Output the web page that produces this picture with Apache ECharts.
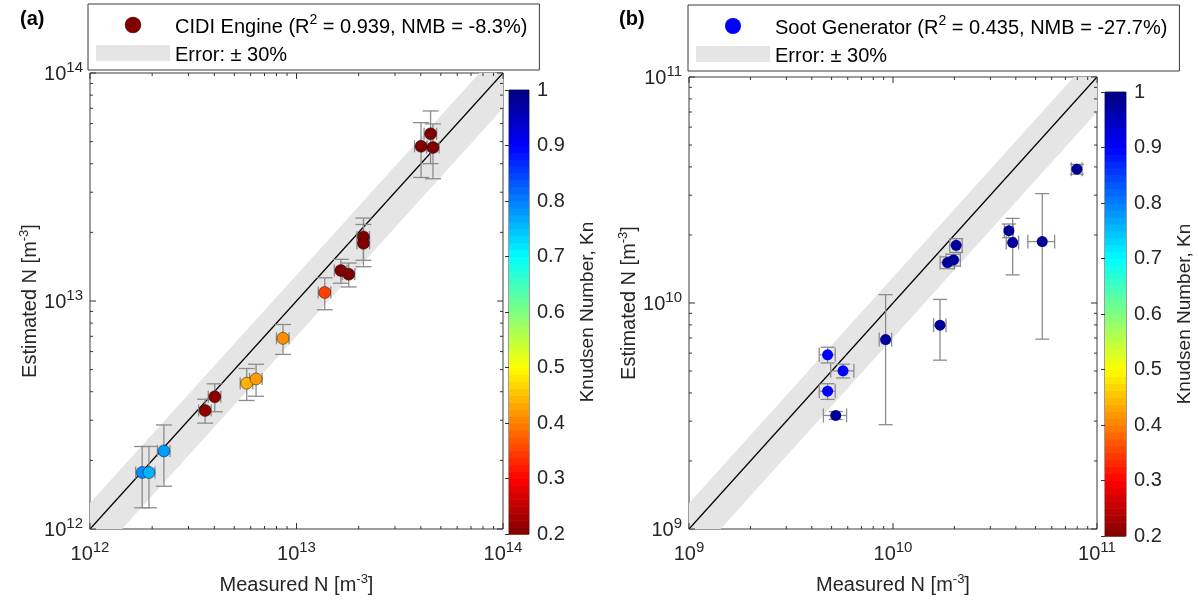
<!DOCTYPE html>
<html><head><meta charset="utf-8">
<script src="https://cdn.jsdelivr.net/npm/echarts@6/dist/echarts.min.js"></script>
<style>html,body{margin:0;padding:0;background:#fff}#c{width:1198px;height:600px}</style>
</head><body><div id="c"></div>
<script>
// ---------- Data: panel (a) CIDI Engine ----------
const aMeasured  = [1.79e12, 1.93e12, 2.28e12, 3.61e12, 4.02e12, 5.74e12, 6.37e12, 8.6e12, 1.37e13, 1.64e13, 1.79e13, 2.11e13, 2.11e13, 4.01e13, 4.46e13, 4.58e13];
const aEstimated = [1.77e12, 1.77e12, 2.20e12, 3.31e12, 3.80e12, 4.36e12, 4.55e12, 6.86e12, 1.09e13, 1.36e13, 1.31e13, 1.91e13, 1.79e13, 4.77e13, 5.41e13, 4.71e13];
const aKn        = [0.79, 0.76, 0.78, 0.21, 0.21, 0.44, 0.42, 0.41, 0.35, 0.2, 0.2, 0.2, 0.2, 0.2, 0.2, 0.2];
const aXErr      = [0.07, 0.07, 0.07, 0.07, 0.07, 0.07, 0.07, 0.07, 0.07, 0.07, 0.07, 0.07, 0.07, 0.07, 0.07, 0.07];
const aYErr      = [0.30, 0.30, 0.30, 0.12, 0.14, 0.16, 0.16, 0.15, 0.16, 0.12, 0.12, 0.21, 0.21, 0.27, 0.26, 0.27];
const aName = 'CIDI Engine (R² = 0.939, NMB = -8.3%)';
const aRange = [1e12, 1e14];

// ---------- Data: panel (b) Soot Generator ----------
const bMeasured  = [4.78e9, 5.69e9, 4.78e9, 5.24e9, 9.2e9, 1.70e10, 1.85e10, 1.98e10, 2.04e10, 3.70e10, 3.86e10, 5.39e10, 7.97e10];
const bEstimated = [5.9e9, 5.01e9, 4.07e9, 3.18e9, 6.89e9, 7.98e9, 1.51e10, 1.55e10, 1.80e10, 2.09e10, 1.85e10, 1.87e10, 3.91e10];
const bKn        = [0.9, 0.9, 0.9, 0.98, 0.98, 0.98, 0.98, 0.98, 0.98, 0.98, 0.98, 0.98, 0.98];
const bXErr      = [0.09, 0.13, 0.09, 0.13, 0.07, 0.07, 0.08, 0.08, 0.07, 0.05, 0.07, 0.15, 0.06];
const bYErr      = [0.08, 0.07, 0.08, 0.04, 0.58, 0.30, 0.06, 0.06, 0.07, 0.07, 0.28, 0.63, 0.05];
const bName = 'Soot Generator (R² = 0.435, NMB = -27.7%)';
const bRange = [1e9, 1e11];

const bandFrac = 0.30;                 // ± 30 % error band
const bandName = 'Error: ± 30%';
const knRange = [0.2, 1.0];
const knTickStep = 0.1;

// ---------- helpers ----------
const FONT = 'Liberation Sans, Arial, sans-serif';
const TXT = '#262626';
const jetStops = [[0,0,0.5],[0,0,1],[0,0.5,1],[0,1,1],[0.5,1,0.5],[1,1,0],[1,0.5,0],[1,0,0],[0.5,0,0]];
function jet(t){ // t: 0 -> dark blue, 1 -> dark red
  t = Math.max(0, Math.min(1, t));
  const p = t * 8, i = Math.min(7, Math.floor(p)), f = p - i;
  const a = jetStops[i], b = jetStops[i+1];
  const c = a.map((v,k)=>Math.round(255*(v + (b[k]-v)*f)));
  return 'rgb(' + c.join(',') + ')';
}
const jetColorsLowToHigh = jetStops.slice().reverse().map(s => 'rgb(' + s.map(v=>Math.round(v*255)).join(',') + ')');

function decadeTicks(range){
  const out = [];
  for (let e = Math.round(Math.log10(range[0])); e < Math.round(Math.log10(range[1])); e++){
    out.push([Math.pow(10,e), 6]);
    for (let m = 2; m <= 9; m++) out.push([m*Math.pow(10,e), 3]);
  }
  out.push([range[1], 6]);
  return out;
}
const colorLevels = [];
for (let i = 0; i < 64; i++){
  const lo = knRange[0] + (knRange[1]-knRange[0]) * i / 64;
  const hi = knRange[0] + (knRange[1]-knRange[0]) * (i+1) / 64;
  colorLevels.push([0, lo, hi, 1 - (i+0.5)/64]);
}

const supRich = (size, supSize, raise) => ({
  b: {fontSize: size, fontFamily: FONT, color: TXT, verticalAlign: 'bottom', lineHeight: size + 3},
  s: {fontSize: supSize, fontFamily: FONT, color: TXT, verticalAlign: 'bottom', lineHeight: size + 3, padding: [0,0,raise,0]}
});
const powLabel = v => '{b|10}{s|' + Math.round(Math.log10(v)) + '}';

function logAxis(gridIndex, range, position, nameStr, nameGap){
  return {
    type: 'log', logBase: 10, gridIndex, position, min: range[0], max: range[1],
    axisLine: {show: false}, axisTick: {show: false}, splitLine: {show: false}, minorTick: {show: false},
    axisLabel: {formatter: powLabel, rich: supRich(20, 15, 9), margin: position === 'bottom' ? 12 : 7},
    name: nameStr, nameLocation: 'middle', nameGap,
    nameTextStyle: {rich: {
      n: {fontSize: 20, fontFamily: FONT, color: TXT, verticalAlign: 'bottom', lineHeight: 23},
      s: {fontSize: 13, fontFamily: FONT, color: TXT, verticalAlign: 'bottom', lineHeight: 23, padding: [0,0,9,0]}
    }}
  };
}
function cbAxisX(gridIndex){ return {type:'value', gridIndex, min:0, max:1, show:false}; }
function cbAxisY(gridIndex){
  return {type:'value', gridIndex, position:'right', min: knRange[0], max: knRange[1], interval: knTickStep,
    axisLine:{show:false}, splitLine:{show:false},
    axisTick:{show:true, inside:true, length:4, lineStyle:{color:'#333'}},
    axisLabel:{fontSize:20, fontFamily:FONT, color:TXT, margin:8, formatter: v => (Math.round(v*10)/10).toString()},
    name:'Knudsen Number, Kn', nameLocation:'middle', nameRotate:90, nameGap:49,
    nameTextStyle:{fontSize:19, fontFamily:FONT, color:TXT}};
}

function toItems(xs, ys, kn){ return xs.map((x,i)=>[x, ys[i], kn[i]]); }
function toErr(xs, ys, ex, ey){ return xs.map((x,i)=>[x, ys[i], x*(1-ex[i]), x*(1+ex[i]), ys[i]*(1-ey[i]), ys[i]*(1+ey[i])]); }

function bandSeries(xi, yi, range){
  return {type:'custom', name: bandName, xAxisIndex:xi, yAxisIndex:yi, clip:true, z:1, silent:true,
    data:[[range[0], range[1], bandFrac]],
    renderItem:(p, api)=>{
      const lo = api.value(0), hi = api.value(1), f = api.value(2);
      const pts = [[lo, lo*(1-f)], [hi, hi*(1-f)], [hi, hi*(1+f)], [lo, lo*(1+f)]].map(q=>api.coord(q));
      return {type:'polygon', shape:{points:pts}, style:{fill:'#e5e5e5'}};
    }};
}
function diagSeries(xi, yi, range){
  return {type:'line', xAxisIndex:xi, yAxisIndex:yi, data:[[range[0],range[0]],[range[1],range[1]]],
    symbol:'none', lineStyle:{color:'#000', width:1.2}, z:3, silent:true};
}
function errSeries(xi, yi, data, capY, capX){
  return {type:'custom', xAxisIndex:xi, yAxisIndex:yi, z:4, silent:true, data,
    renderItem:(p, api)=>{
      const x = api.value(0), y = api.value(1);
      const yl = api.coord([x, api.value(4)]), yh = api.coord([x, api.value(5)]);
      const xl = api.coord([api.value(2), y]), xh = api.coord([api.value(3), y]);
      const st = {stroke:'#8c8c8c', lineWidth:1.3};
      const L = (x1,y1,x2,y2)=>({type:'line', shape:{x1,y1,x2,y2}, style:st});
      return {type:'group', children:[
        L(yl[0], yl[1], yh[0], yh[1]),
        L(yl[0]-capY, yl[1], yl[0]+capY, yl[1]),
        L(yh[0]-capY, yh[1], yh[0]+capY, yh[1]),
        L(xl[0], xl[1], xh[0], xh[1]),
        L(xl[0], xl[1]-capX, xl[0], xl[1]+capX),
        L(xh[0], xh[1]-capX, xh[0], xh[1]+capX)
      ]};
    }};
}
function tickSeries(xi, yi, range){
  return {type:'custom', xAxisIndex:xi, yAxisIndex:yi, z:6, silent:true, clip:false,
    data: decadeTicks(range),
    renderItem:(p, api)=>{
      const v = api.value(0), len = api.value(1);
      const b = api.coord([v, range[0]]), t = api.coord([v, range[1]]);
      const l = api.coord([range[0], v]), r = api.coord([range[1], v]);
      const st = {stroke:'#333', lineWidth:1};
      const L = (x1,y1,x2,y2)=>({type:'line', shape:{x1,y1,x2,y2}, style:st});
      return {type:'group', children:[
        L(b[0], b[1], b[0], b[1]-len), L(t[0], t[1], t[0], t[1]+len),
        L(l[0], l[1], l[0]+len, l[1]), L(r[0], r[1], r[0]-len, r[1])
      ]};
    }};
}
function colorbarSeries(xi, yi){
  return {type:'custom', xAxisIndex:xi, yAxisIndex:yi, silent:true, z:2, data: colorLevels,
    renderItem:(p, api)=>{
      const a = api.coord([0, api.value(1)]), b = api.coord([1, api.value(2)]);
      return {type:'rect', shape:{x:a[0], y:b[1], width:b[0]-a[0], height:a[1]-b[1]+0.6},
        style:{fill: jet(api.value(3))}};
    }};
}
function scatterSeries(name, xi, yi, data, size, border){
  return {type:'scatter', name, xAxisIndex:xi, yAxisIndex:yi, data, symbolSize:size, z:5,
    itemStyle:{color: name === aName ? '#800000' : '#0000ff', borderColor: border ? 'rgba(0,0,0,0.55)' : 'transparent', borderWidth: border ? 0.8 : 0, opacity:1}};
}

const boxStyle = {show:true, borderColor:'#3a3a3a', borderWidth:1, backgroundColor:'transparent'};
const xName = '{n|Measured N [m}{s|-3}{n|]}';
const yName = '{n|Estimated N [m}{s|-3}{n|]}';

const legendRich = {
  n: {fontSize: 20, fontFamily: FONT, color: '#000', verticalAlign: 'bottom', lineHeight: 24},
  s: {fontSize: 14, fontFamily: FONT, color: '#000', verticalAlign: 'bottom', lineHeight: 16, padding: [0,0,10,0]}
};
const legendFmt = name => '{n|' + name.replace('R²', 'R}{s|2}{n|') + '}';
function legendBox(left, top, seriesName, color, border){
  return {left, top, orient:'vertical', selectedMode:false, itemWidth:74, itemHeight:16, itemGap:8,
    padding:[9,12,5,8], borderColor:'#3a3a3a', borderWidth:1, backgroundColor:'#fff',
    formatter: legendFmt, textStyle:{fontSize:20, fontFamily:FONT, color:'#000', rich: legendRich},
    data:[{name:seriesName, icon:'circle', itemStyle:{color, borderColor: border ? 'rgba(0,0,0,0.4)' : 'transparent', borderWidth: border ? 0.8 : 0}},
          {name:bandName, icon:'rect', itemStyle:{color:'#e5e5e5', borderWidth:0}}]};
}

const option = {
  animation:false,
  backgroundColor:'#fff',
  grid:[
    Object.assign({left:90, top:73, width:413, height:460}, boxStyle),
    Object.assign({left:509, top:90, width:20, height:444}, boxStyle),
    Object.assign({left:689, top:77, width:408, height:456}, boxStyle),
    Object.assign({left:1105, top:92, width:21, height:444}, boxStyle)
  ],
  xAxis:[
    logAxis(0, aRange, 'bottom', xName, 43),
    cbAxisX(1),
    logAxis(2, bRange, 'bottom', xName, 43),
    cbAxisX(3)
  ],
  yAxis:[
    Object.assign(logAxis(0, aRange, 'left', yName, 49), {nameRotate:90}),
    cbAxisY(1),
    Object.assign(logAxis(2, bRange, 'left', yName, 49), {nameRotate:90}),
    cbAxisY(3)
  ],
  visualMap:[
    {type:'continuous', show:false, seriesIndex:3, dimension:2, min:knRange[0], max:knRange[1], inRange:{color:jetColorsLowToHigh}},
    {type:'continuous', show:false, seriesIndex:9, dimension:2, min:knRange[0], max:knRange[1], inRange:{color:jetColorsLowToHigh}}
  ],
  legend:[
    legendBox(88, 4, aName, '#800000', true),
    legendBox(688, 5, bName, '#0000ff', false)
  ],
  graphic:[
    {type:'text', left:20, top:9, style:{text:'(a)', font:'bold 20px ' + FONT, fill:'#000'}},
    {type:'text', left:619, top:9, style:{text:'(b)', font:'bold 20px ' + FONT, fill:'#000'}}
  ],
  series:[
    bandSeries(0, 0, aRange),
    diagSeries(0, 0, aRange),
    errSeries(0, 0, toErr(aMeasured, aEstimated, aXErr, aYErr), 8, 6),
    scatterSeries(aName, 0, 0, toItems(aMeasured, aEstimated, aKn), 12, true),
    tickSeries(0, 0, aRange),
    colorbarSeries(1, 1),
    bandSeries(2, 2, bRange),
    diagSeries(2, 2, bRange),
    errSeries(2, 2, toErr(bMeasured, bEstimated, bXErr, bYErr), 7, 7),
    scatterSeries(bName, 2, 2, toItems(bMeasured, bEstimated, bKn), 11, false),
    tickSeries(2, 2, bRange),
    colorbarSeries(3, 3)
  ]
};
const chart = echarts.init(document.getElementById('c'), null, {renderer:'canvas'});
chart.setOption(option);
</script>
</body></html>
